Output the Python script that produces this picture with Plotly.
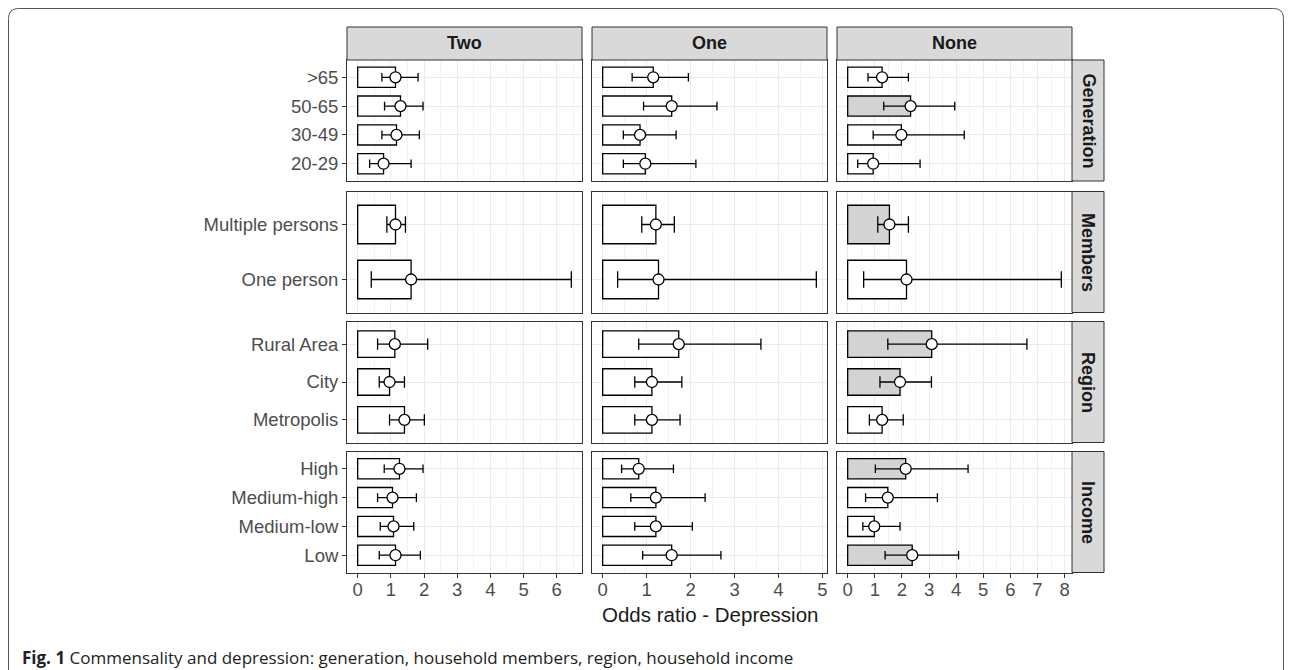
import plotly.graph_objects as go

# the page body adds an 8px margin; the figure is placed at (8, 8)
OX, OY = 8, 8
W, H = 1284, 662

# ---------------- data ----------------
columns = ["Two", "One", "None"]
groups = ["Generation", "Members", "Region", "Income"]
group_sizes = [4, 2, 3, 4]

# categories listed top to bottom, group by group
categories = [">65", "50-65", "30-49", "20-29",
              "Multiple persons", "One person",
              "Rural Area", "City", "Metropolis",
              "High", "Medium-high", "Medium-low", "Low"]

two_or = [1.14, 1.29, 1.17, 0.78, 1.14, 1.61, 1.12, 0.96, 1.41, 1.26, 1.05, 1.08, 1.14]
two_lo = [0.73, 0.81, 0.73, 0.36, 0.88, 0.41, 0.60, 0.65, 0.96, 0.80, 0.60, 0.68, 0.65]
two_hi = [1.82, 1.97, 1.86, 1.61, 1.44, 6.44, 2.11, 1.41, 2.01, 1.97, 1.77, 1.69, 1.89]
two_sig = [0, 0, 0, 0, 0, 0, 0, 0, 0, 0, 0, 0, 0]

one_or = [1.15, 1.57, 0.85, 0.97, 1.21, 1.27, 1.73, 1.12, 1.12, 0.82, 1.21, 1.21, 1.57]
one_lo = [0.67, 0.93, 0.47, 0.47, 0.89, 0.34, 0.82, 0.73, 0.73, 0.43, 0.64, 0.73, 0.91]
one_hi = [1.95, 2.60, 1.67, 2.12, 1.63, 4.86, 3.60, 1.80, 1.76, 1.61, 2.33, 2.04, 2.69]
one_sig = [0, 0, 0, 0, 0, 0, 0, 0, 0, 0, 0, 0, 0]

none_or = [1.27, 2.32, 1.98, 0.94, 1.54, 2.17, 3.10, 1.93, 1.27, 2.14, 1.48, 0.98, 2.38]
none_lo = [0.75, 1.33, 0.94, 0.37, 1.11, 0.59, 1.48, 1.19, 0.80, 1.02, 0.66, 0.56, 1.38]
none_hi = [2.24, 3.95, 4.30, 2.67, 2.24, 7.88, 6.61, 3.09, 2.05, 4.44, 3.31, 1.93, 4.09]
none_sig = [0, 1, 0, 0, 1, 0, 1, 1, 0, 1, 0, 0, 1]

col_data = [(two_or, two_lo, two_hi, two_sig),
            (one_or, one_lo, one_hi, one_sig),
            (none_or, none_lo, none_hi, none_sig)]

# ---------------- layout geometry (window pixels) ----------------
col_x = [(347, 582), (592, 827), (837, 1072)]
row_y = [(60, 181), (191.5, 312.5), (321.5, 442.5), (451.5, 572.5)]
strip_top = (27, 60)
strip_right = (1072, 1104)

FONT = "Liberation Sans, Arial, Helvetica, sans-serif"
CAP_FONT = "Open Sans, Liberation Sans, Arial, sans-serif"
BORDER = "#333333"
STRIP = "#D9D9D9"
GRAY_FILL = "#D3D3D3"
TICK_COLOR = "#4D4D4D"


def px(x):
    return (x - OX) / W


def py(y):
    return 1 - (y - OY) / H


fig = go.Figure()
layout = {}

starts = [sum(group_sizes[:i]) for i in range(len(group_sizes))]

for c in range(3):
    o_all, l_all, h_all, s_all = col_data[c]
    xmax = max(h_all)
    span = xmax - 0.0
    xr = [0.0 - 0.05 * span, xmax + 0.05 * span]
    for r in range(4):
        k = r * 3 + c + 1
        xname = "xaxis" if k == 1 else f"xaxis{k}"
        yname = "yaxis" if k == 1 else f"yaxis{k}"
        xref = "x" if k == 1 else f"x{k}"
        yref = "y" if k == 1 else f"y{k}"
        s0, n = starts[r], group_sizes[r]
        cats = categories[s0:s0 + n]
        o = o_all[s0:s0 + n]
        lo = l_all[s0:s0 + n]
        hi = h_all[s0:s0 + n]
        sig = s_all[s0:s0 + n]
        panel_h = row_y[r][1] - row_y[r][0]
        cap_half = 0.15 * panel_h / (n + 0.2)

        fig.add_trace(go.Bar(
            x=o, y=cats, orientation="h", width=0.7,
            marker=dict(color=[GRAY_FILL if s else "white" for s in sig],
                        line=dict(color="black", width=1.3)),
            xaxis=xref, yaxis=yref, showlegend=False, hoverinfo="skip"))
        fig.add_trace(go.Scatter(
            x=o, y=cats, mode="markers",
            marker=dict(symbol="circle", size=11, color="white",
                        line=dict(color="black", width=1.3)),
            error_x=dict(type="data", symmetric=False,
                         array=[h - v for h, v in zip(hi, o)],
                         arrayminus=[v - l for v, l in zip(o, lo)],
                         color="black", thickness=1.3, width=cap_half),
            xaxis=xref, yaxis=yref, showlegend=False, hoverinfo="skip"))

        layout[xname] = dict(
            domain=[px(col_x[c][0]), px(col_x[c][1])], anchor=yref,
            range=xr, autorange=False, showline=True, mirror=True,
            linecolor=BORDER, linewidth=1, showgrid=True, gridcolor="#EBEBEB",
            gridwidth=1, tick0=0, dtick=1,
            minor=dict(dtick=0.5, showgrid=True, gridcolor="#F3F3F3", gridwidth=0.6),
            zeroline=False, showticklabels=(r == 3),
            ticks="outside" if r == 3 else "", ticklen=4, tickcolor=BORDER,
            ticklabelstandoff=-4,
            tickfont=dict(size=18.5, color=TICK_COLOR, family=FONT),
            fixedrange=True)
        layout[yname] = dict(
            domain=[py(row_y[r][1]), py(row_y[r][0])], anchor=xref,
            type="category", categoryorder="array",
            categoryarray=list(reversed(cats)),
            range=[-0.6, n - 0.4], autorange=False,
            showline=True, mirror=True, linecolor=BORDER, linewidth=1,
            showgrid=True, gridcolor="#EBEBEB", gridwidth=1, zeroline=False,
            showticklabels=(c == 0), ticks="outside" if c == 0 else "",
            ticklen=4, tickcolor=BORDER,
            tickfont=dict(size=18.5, color=TICK_COLOR, family=FONT),
            fixedrange=True)

shapes = []
annotations = []

# top strips
for c, name in enumerate(columns):
    shapes.append(dict(type="rect", xref="paper", yref="paper",
                       x0=px(col_x[c][0]), x1=px(col_x[c][1]),
                       y0=py(strip_top[1]), y1=py(strip_top[0]),
                       fillcolor=STRIP, line=dict(color=BORDER, width=1), layer="above"))
    annotations.append(dict(xref="paper", yref="paper",
                            x=px((col_x[c][0] + col_x[c][1]) / 2),
                            y=py((strip_top[0] + strip_top[1]) / 2),
                            xanchor="center", yanchor="middle",
                            text=f"<b>{name}</b>", showarrow=False,
                            font=dict(size=18, color="#1A1A1A", family=FONT)))

# right strips
for r, name in enumerate(groups):
    shapes.append(dict(type="rect", xref="paper", yref="paper",
                       x0=px(strip_right[0]), x1=px(strip_right[1]),
                       y0=py(row_y[r][1]), y1=py(row_y[r][0]),
                       fillcolor=STRIP, line=dict(color=BORDER, width=1), layer="above"))
    annotations.append(dict(xref="paper", yref="paper",
                            x=px((strip_right[0] + strip_right[1]) / 2),
                            y=py((row_y[r][0] + row_y[r][1]) / 2),
                            xanchor="center", yanchor="middle",
                            text=f"<b>{name}</b>", showarrow=False, textangle=90,
                            font=dict(size=18, color="#1A1A1A", family=FONT)))

# x axis title
annotations.append(dict(xref="paper", yref="paper",
                        x=px((col_x[0][0] + col_x[2][1]) / 2), y=py(614),
                        xanchor="center", yanchor="middle",
                        text="Odds ratio - Depression", showarrow=False,
                        font=dict(size=20.5, color="#1A1A1A", family=FONT)))

# caption
annotations.append(dict(xref="paper", yref="paper", x=px(20), y=py(657),
                        xanchor="left", yanchor="middle",
                        text="<b>Fig. 1</b> Commensality and depression: generation, household members, region, household income",
                        showarrow=False,
                        font=dict(size=17, color="#222222", family=CAP_FONT)))

# outer rounded frame (open at the bottom edge of the picture)
x0f, x1f, y0f, y1f, rr = 8.5, 1283.5, 8.5, 672, 10
path = (f"M {px(x0f)},{py(y1f)} L {px(x0f)},{py(y0f + rr)} "
        f"Q {px(x0f)},{py(y0f)} {px(x0f + rr)},{py(y0f)} "
        f"L {px(x1f - rr)},{py(y0f)} "
        f"Q {px(x1f)},{py(y0f)} {px(x1f)},{py(y0f + rr)} "
        f"L {px(x1f)},{py(y1f)}")
shapes.append(dict(type="path", xref="paper", yref="paper", path=path,
                   line=dict(color="#555555", width=1)))

fig.update_layout(
    width=W, height=H, margin=dict(l=0, r=0, t=0, b=0),
    paper_bgcolor="white", plot_bgcolor="white",
    barmode="overlay", showlegend=False,
    font=dict(family=FONT),
    shapes=shapes, annotations=annotations, **layout)

fig.write_html("out.html")
